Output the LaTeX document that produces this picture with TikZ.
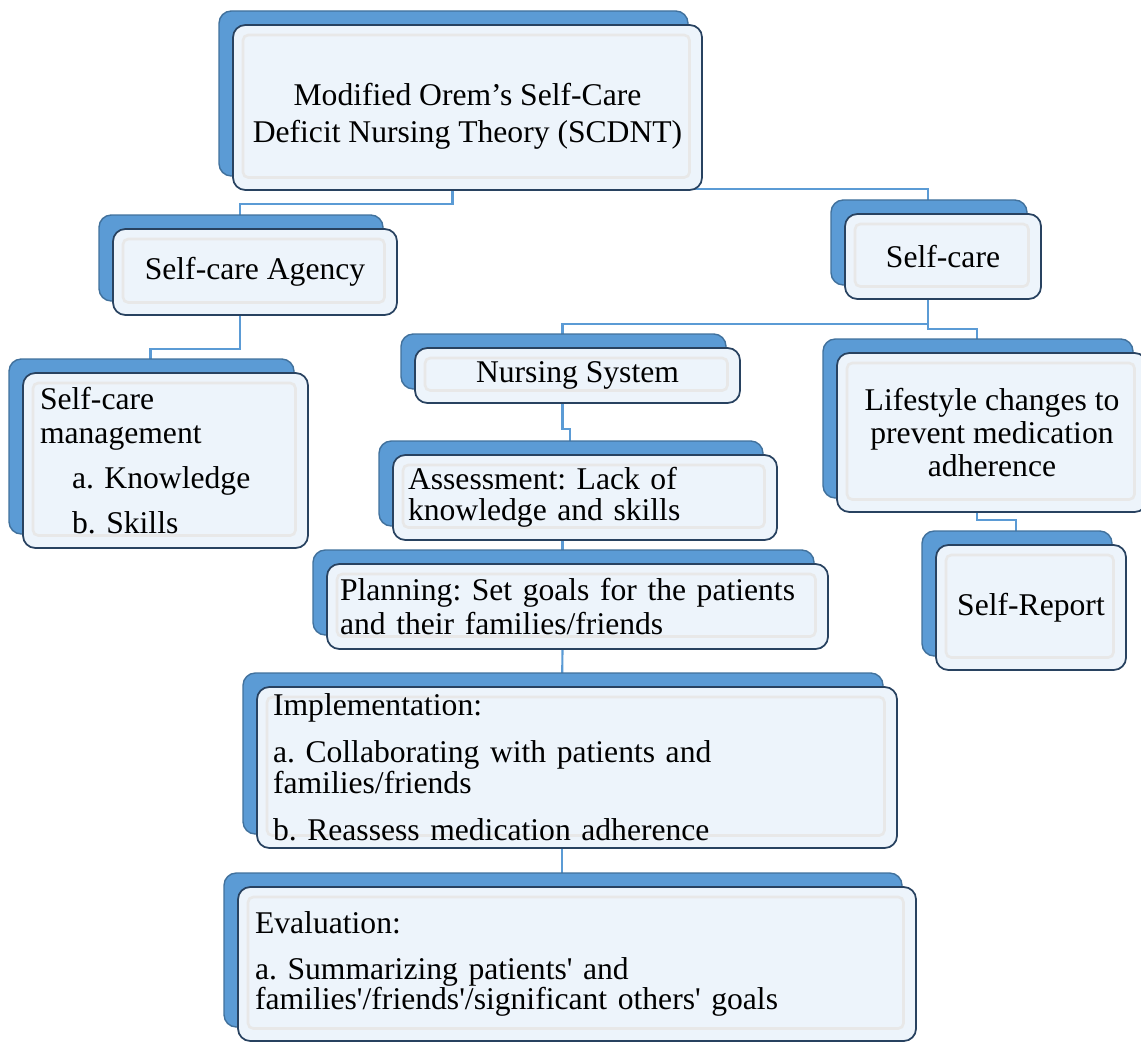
\documentclass[tikz,border=0pt]{standalone}
\usepackage{fontspec}
\setmainfont{Liberation Serif}[Ligatures=TeXOff]
\usetikzlibrary{shadows,backgrounds}
\definecolor{tabblue}{RGB}{91,155,213}
\definecolor{tabedge}{RGB}{65,113,156}
\definecolor{cardfill}{RGB}{237,244,251}
\definecolor{cardedge}{RGB}{40,66,96}
\frenchspacing

\begin{document}
\begin{tikzpicture}[x=0.02cm, y=-0.02cm,
  card/.style 2 args={draw=cardedge, line width=1pt, fill=cardfill, rounded corners=7pt,
    minimum width=#1*0.02cm, minimum height=#2*0.02cm, inner xsep=0.3cm, inner ysep=0pt,
    font=\fontsize{18}{19.5}\selectfont, align=center,
    general shadow={shadow xshift=-0.28cm, shadow yshift=0.28cm, fill=tabblue, draw=tabedge, line width=0.8pt},
    path picture={\draw[black!9, line width=1.5pt, rounded corners=3pt]
      ([shift={(0.2cm,-0.2cm)}]path picture bounding box.north west) rectangle
      ([shift={(-0.25cm,0.25cm)}]path picture bounding box.south east);}},
  link/.style={draw=tabblue, line width=1.2pt}]
\useasboundingbox (0,0) rectangle (1141,1043);

\node[card={469}{165}, font=\fontsize{18}{20.9}\selectfont] (orem) at (467.5,107.5)
  {\rule{0pt}{23pt}Modified Orem’s Self-Care\\Deficit Nursing Theory (SCDNT)};
\node[card={284}{86}] (agency) at (255,272) {Self-care Agency};
\node[card={196}{85}] (selfcare) at (943,256.5) {Self-care};
\node[card={285}{175}, inner xsep=0.34cm, text width=5.02cm, align=left,
  font=\fontsize{18}{19.4}\selectfont] (mgmt) at (165.5,460.5)
  {Self-care\\management\\[6pt]\hspace*{0.64cm}a. Knowledge\\[6pt]\hspace*{0.64cm}b. Skills};
\node[card={325}{55}] (nursing) at (577.5,375.5) {Nursing System};
\node[card={310}{159}, font=\fontsize{18}{18.8}\selectfont] (lifestyle) at (992,432.5)
  {Lifestyle changes to\\prevent medication\\adherence};
\node[card={190}{125}] (selfreport) at (1031,607.5) {Self-Report};
\node[card={384}{85}, text width=7.08cm, align=left,
  font=\fontsize{18}{17.7}\selectfont] (assess) at (585,497.5)
  {Assessment: Lack of\\knowledge and skills};
\node[card={501}{85}, inner xsep=0.26cm, text width=9.5cm, align=left,
  font=\fontsize{18}{19.9}\selectfont] (planning) at (577.5,606.5)
  {Planning: Set goals for the patients\\and their families/friends};
\node[card={640}{161}, inner xsep=0.32cm, text width=12.16cm, align=left,
  font=\fontsize{18}{17.7}\selectfont] (impl) at (577,767.5)
  {Implementation:\\[9pt]a. Collaborating with patients and\\families/friends\\[9pt]b. Reassess medication adherence};
\node[card={678}{154}, inner xsep=0.34cm, text width=12.88cm, align=left,
  font=\fontsize{18}{17.2}\selectfont] (eval) at (577,964)
  {Evaluation:\\[9pt]a. Summarizing patients' and\\families'/friends'/significant others' goals};

\begin{scope}[on background layer]
\draw[link] ([xshift=-0.3cm]orem.south) -- ++(0,13) -| ([xshift=-0.3cm]agency.north);
\draw[link] ([xshift=-0.3cm]orem.south) -- ++(0,-2) -| ([xshift=-0.3cm]selfcare.north);
\draw[link] ([xshift=-0.3cm]agency.south) -- ++(0,33) -| ([xshift=-0.3cm]mgmt.north);
\draw[link] ([xshift=-0.3cm]selfcare.south) -- ++(0,24) -| ([xshift=-0.3cm]nursing.north);
\draw[link] ([xshift=-0.3cm]selfcare.south) -- ++(0,29) -| ([xshift=-0.3cm]lifestyle.north);
\draw[link] ([xshift=-0.3cm]lifestyle.south) -- ++(0,7) -| ([xshift=-0.3cm]selfreport.north);
\draw[link] ([xshift=-0.3cm]nursing.south) -- ++(0,25) -| ([xshift=-0.3cm]assess.north);
\draw[link] ([xshift=-0.3cm]planning.north) -- ++(0,-24);
\draw[link] ([xshift=-0.3cm]planning.south) -- ([xshift=-0.3cm]impl.north);
\draw[link] ([xshift=-0.3cm]impl.south) -- ([xshift=-0.3cm]eval.north);
\end{scope}
\end{tikzpicture}
\end{document}
